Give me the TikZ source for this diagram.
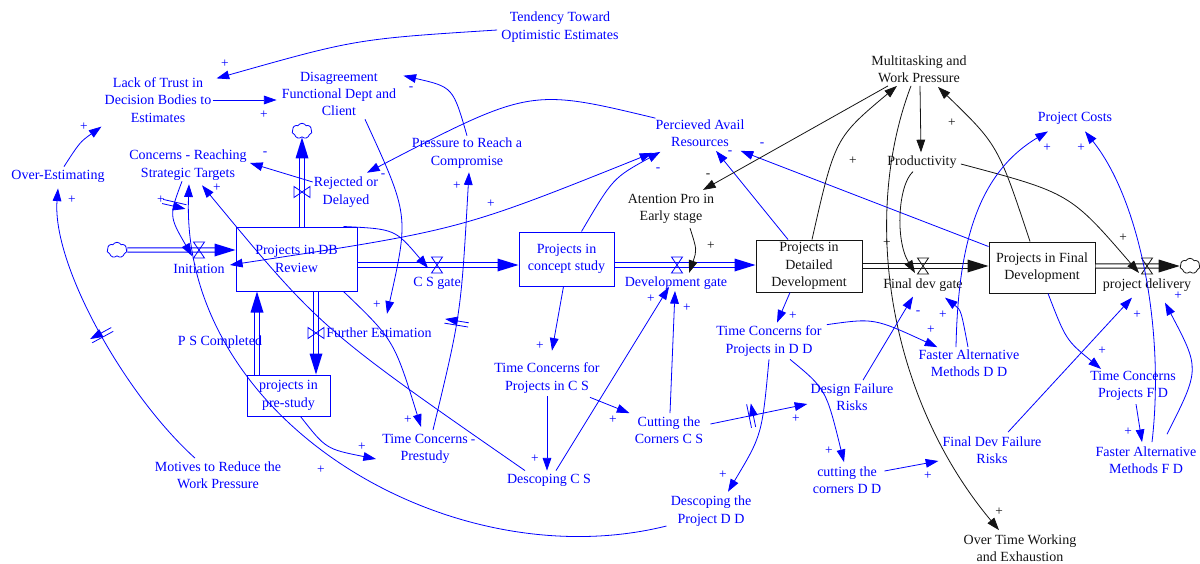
\documentclass[tikz,border=0pt]{standalone}
\usepackage{fontspec}
\setmainfont{Liberation Serif}
\usetikzlibrary{arrows.meta,calc,shapes.symbols,decorations.markings}
\definecolor{vblue}{RGB}{0,0,255}
\definecolor{vblack}{RGB}{20,20,20}
\begin{document}
\begin{tikzpicture}[x=0.75pt,y=-0.75pt,
  >={Triangle[length=9.5pt,width=6.5pt]},
  every node/.style={font=\fontsize{10.5}{13}\selectfont, align=center, inner sep=0.75pt},
  var/.style={text=vblue},
  bvar/.style={text=vblack},
  stock/.style={draw=#1, text=#1, line width=0.75pt, inner sep=0pt},
  link/.style={draw=vblue, line width=0.6pt, ->},
  blink/.style={draw=vblack, line width=0.6pt, ->},
  pipe/.style={draw=#1, line width=0.6pt, double=white, double distance=2.6pt},
  pipeto/.style={pipe=#1, shorten >=11pt},
  pol/.style={text=vblue, font=\fontsize{10}{10}\selectfont, inner sep=0pt},
  bpol/.style={pol, text=vblack},
  delay/.style={postaction={decorate, decoration={markings, mark=at position #1 with {\draw[vblue, line width=0.6pt] (-1.6pt,-9pt) -- (-1.6pt,9pt) (1.6pt,-9pt) -- (1.6pt,9pt);}}}},
  puff/.style={cloud, cloud puffs=7, cloud puff arc=120, aspect=1.3, draw=#1, line width=0.6pt, minimum width=15pt, minimum height=11.5pt, inner sep=0pt},
  ptip/.pic={\fill (0,0) -- (-21,-6.5) -- (-21,6.5) -- cycle;},
  valve/.pic={\draw[line width=0.6pt] (-5.5,-8) -- (5.5,-8) -- (-5.5,8) -- (5.5,8) -- cycle;},
]
\useasboundingbox (0,0) rectangle (1200,564);

% ---------- stocks ----------
\node[stock=vblue, minimum width=90.75pt, minimum height=48pt] (dbr) at (296.5,259) {Projects in DB\\Review};
\node[stock=vblue, minimum width=71.25pt, minimum height=40.5pt] (pcs) at (566.5,259) {Projects in\\concept study};
\node[stock=vblack, minimum width=79.5pt, minimum height=39pt] (pdd) at (809,266) {Projects in\\Detailed\\Development};
\node[stock=vblack, minimum width=79.5pt, minimum height=38.25pt] (pfd) at (1042,267.5) {Projects in Final\\Development};
\node[stock=vblue, minimum width=62.25pt, minimum height=30.75pt] (pps) at (288.5,395.5) {projects in\\pre-study};

% ---------- clouds and valve positions ----------
\node[puff=vblue] (src) at (117,250) {};
\node[puff=vblue] (up) at (302,131) {};
\node[puff=vblack] (snk) at (1190,266) {};
\coordinate (vinit) at (199,250);
\coordinate (vcsg) at (437,265);
\coordinate (vdev) at (677,265);
\coordinate (vfdg) at (923,266);
\coordinate (vpdel) at (1147,266);
\coordinate (vrej) at (302,192);
\coordinate (vfur) at (316,333);
\coordinate (vps) at (257,340);

% ---------- flows ----------
\draw[pipeto=vblue] (src) -- (dbr.west |- vinit);
\pic[color=vblue] at (dbr.west |- vinit) {ptip};
\pic[color=vblue] at (vinit) {valve};
\draw[pipeto=vblue] (dbr.east |- vcsg) -- (pcs.west |- vcsg);
\pic[color=vblue] at (pcs.west |- vcsg) {ptip};
\pic[color=vblue] at (vcsg) {valve};
\draw[pipeto=vblue] (pcs.east |- vdev) -- (pdd.west |- vdev);
\pic[color=vblue] at (pdd.west |- vdev) {ptip};
\pic[color=vblue] at (vdev) {valve};
\draw[pipeto=vblack] (pdd.east |- vfdg) -- (pfd.west |- vfdg);
\pic[color=vblack] at (pfd.west |- vfdg) {ptip};
\pic[color=vblack] at (vfdg) {valve};
\draw[pipeto=vblack] (pfd.east |- vpdel) -- (snk.west);
\pic[color=vblack] at (snk.west) {ptip};
\pic[color=vblack] at (vpdel) {valve};
\draw[pipeto=vblue] (dbr.north -| vrej) -- (up.south);
\pic[color=vblue, rotate=90] at (up.south) {ptip};
\pic[color=vblue, rotate=90] at (vrej) {valve};
\draw[pipeto=vblue] (dbr.south -| vfur) -- (pps.north -| vfur);
\pic[color=vblue, rotate=-90] at (pps.north -| vfur) {ptip};
\pic[color=vblue, rotate=90] at (vfur) {valve};
\draw[pipeto=vblue] (pps.north -| vps) -- (dbr.south -| vps);
\pic[color=vblue, rotate=90] at (dbr.south -| vps) {ptip};

% ---------- variables ----------
\node[var] (tend) at (560,27) {Tendency Toward\\Optimistic Estimates};
\node[var] (trust) at (158,100) {Lack of Trust in\\Decision Bodies to\\Estimates};
\node[var] (disag) at (339,94) {Disagreement\\Functional Dept and\\Client};
\node[var] (overest) at (58,176) {Over-Estimating};
\node[var] (concerns) at (188,165) {Concerns - Reaching\\Strategic Targets};
\node[var] (rejlab) at (346,192) {Rejected or\\Delayed};
\node[var] (press) at (467,153) {Pressure to Reach a\\Compromise};
\node[var] (par) at (700,133) {Percieved Avail\\Resources};
\node[var] (initlab) at (199,269) {Initiation};
\node[var] (csglab) at (437,283) {C S gate};
\node[var] (devglab) at (676,283) {Development gate};
\node[var] (pslab) at (220,342) {P S Completed};
\node[var] (furlab) at (379,333) {Further Estimation};
\node[var] (tcps) at (425,449) {Time Concerns\\Prestudy};
\node[var] (tccs) at (547,378) {Time Concerns for\\Projects in C S};
\node[var] (descs) at (549,480) {Descoping C S};
\node[var] (cutcs) at (669,430) {Cutting the\\Corners C S};
\node[var] (tcdd) at (769,341) {Time Concerns for\\Projects in D D};
\node[var] (dfr) at (852,397) {Design Failure\\Risks};
\node[var] (fadd) at (969,363) {Faster Alternative\\Methods D D};
\node[var] (cutdd) at (847,480) {cutting the\\corners D D};
\node[var] (fdfr) at (992,450) {Final Dev Failure\\Risks};
\node[var] (desdd) at (711,511) {Descoping the\\Project D D};
\node[var] (motives) at (218,475) {Motives to Reduce the\\Work Pressure};
\node[var] (tcfd) at (1133,386) {Time Concerns\\Projects F D};
\node[var] (fafd) at (1146,460) {Faster Alternative\\Methods F D};
\node[var] (pcost) at (1075,118) {Project Costs};
\node[bvar] (multi) at (919,69) {Multitasking and\\Work Pressure};
\node[bvar] (prod) at (922,162) {Productivity};
\node[bvar] (atten) at (671,209) {Atention Pro in\\Early stage};
\node[bvar] (overtime) at (1020,548) {Over Time Working\\and Exhaustion};
\node[bvar] (fdglab) at (923,285) {Final dev gate};
\node[bvar] (pdlab) at (1147,285) {project delivery};

% ---------- causal links ----------
\draw[link] ($(tend.west)+(-3,3)$) .. controls (356,39) .. ($(trust.north east)+(4,2)$);
\draw[link] (trust.east) -- ($(disag.west)+(-4,6)$);
\draw[link] ($(overest.north)+(6,-2)$) .. controls (80,142) .. ($(trust.south west)+(-2,3)$);
\draw[link, delay=0.5] ($(motives.north)+(-23,-2)$) .. controls (125,395) and (52,265) .. ($(overest.south)+(0,5)$);
\draw[link] ($(press.north)+(0,-1)$) .. controls (453,87) .. ($(disag.north east)+(6,5)$);
\draw[link] ($(rejlab.west)+(0,-10)$) -- ($(concerns.east)+(2,-2)$);
\draw[link] ($(par.north west)+(1,0)$) .. controls (530,88) .. ($(rejlab.north)+(21,-3)$);
\draw[link, <->] ($(par.south west)+(-2,5)$) .. controls (460,230) .. ($(initlab.east)+(4,-4)$);
\draw[link] ($(pcs.north)+(15,0)$) .. controls (613,178) .. ($(par.south west)+(6,4)$);
\draw[link] ($(pdd.north)+(-21,0)$) -- ($(par.south)+(16,3)$);
\draw[link] ($(pfd.north west)+(0,5)$) -- ($(par.south east)+(-5,3)$);
\draw[blink] ($(multi.south)+(-31,2)$) -- ($(atten.north)+(32,-3)$);
\draw[blink] ($(atten.south)+(19,3)$) .. controls (697,250) .. ($(vdev)+(12,8)$);
\draw[blink] ($(pdd.north)+(3,0)$) .. controls (835,138) .. ($(multi.south)+(-22,2)$);
\draw[blink] ($(pfd.north)+(-12,0)$) .. controls (998,145) .. ($(multi.south)+(19,3)$);
\draw[blink] ($(multi.south)+(1,2)$) -- ($(prod.north)+(-1,-2)$);
\draw[blink] ($(multi.south)+(-8,2)$) .. controls (860,220) and (890,400) .. ($(overtime.north)+(-21,-3)$);
\draw[blink] ($(prod.south)+(-9,2)$) .. controls (898,185) and (895,240) .. ($(vfdg)+(-8,7)$);
\draw[blink] ($(prod.east)+(3,2)$) .. controls (1070,193) .. ($(vpdel)+(-8,7)$);
\draw[link] ($(pdd.south)+(-19,0)$) -- ($(tcdd.north)+(8,-2)$);
\draw[link] ($(tcdd.north east)+(4,0)$) .. controls (874,318) .. ($(fadd.north west)+(20,-1)$);
\draw[link] ($(fadd.north)+(-1,-1)$) .. controls (961,310) .. ($(fdglab.south)+(22,5)$);
\draw[link] ($(fadd.north)+(-13,-1)$) .. controls (958,250) and (975,175) .. ($(pcost.south)+(-27,6)$);
\draw[link] ($(dfr.north)+(11,-2)$) -- ($(fdglab.south)+(-10,4)$);
\draw[link] ($(tcdd.south)+(21,2)$) .. controls (826,389) .. ($(cutdd.north)+(-3,-3)$);
\draw[link] ($(tcdd.south)+(0,2)$) .. controls (762,435) .. ($(desdd.north)+(17,-3)$);
\draw[link, delay=0.42] ($(cutcs.east)+(6,-6)$) -- ($(dfr.west)+(-2,7)$);
\draw[link] ($(cutdd.east)+(2,-9)$) -- ($(fdfr.west)+(-3,11)$);
\draw[link] ($(fdfr.north)+(16,-3)$) -- ($(pdlab.south)+(-15,5)$);
\draw[link] ($(pfd.south)+(6,0)$) .. controls (1066,340) .. ($(tcfd.north west)+(12,-1)$);
\draw[link] ($(tcfd.south)+(3,2)$) -- ($(fafd.north)+(-4,-3)$);
\draw[link] ($(fafd.north)+(6,-3)$) .. controls (1165,330) and (1140,200) .. ($(pcost.south)+(10,6)$);
\draw[link] ($(fafd.north)+(21,-11)$) .. controls (1200,369) .. ($(pdlab.south)+(18,10)$);
\draw[link] ($(pcs.south)+(-3,0)$) -- ($(tccs.north)+(5,-11)$);
\draw[link] ($(tccs.south)+(0,2)$) -- ($(descs.north)+(-2,-2)$);
\draw[link] ($(tccs.south)+(43,3)$) -- ($(cutcs.north west)+(-4,-2)$);
\draw[link] ($(descs.north)+(7,-2)$) -- ($(vdev)+(-8,22)$);
\draw[link] ($(cutcs.north)+(1,-2)$) -- ($(vdev)+(-2,26)$);
\draw[link] ($(descs.north)+(-24,-2)$) .. controls (321,329) .. ($(concerns.south)+(14,4)$);
\draw[link] ($(desdd.west)+(-3,15)$) .. controls (450,580) and (180,420) .. ($(concerns.south)+(1,3)$);
\draw[link, delay=0.3] ($(concerns.south)+(-6,0)$) .. controls (169,216) .. ($(vinit)+(-7,6)$);
\draw[link] ($(dbr.north east)+(-14,0)$) .. controls (395,229) .. ($(vcsg)+(-9,3)$);
\draw[link] ($(dbr.south east)+(-14,0)$) .. controls (394,340) .. ($(tcps.north)+(-4,-6)$);
\draw[link, delay=0.42] ($(tcps.north)+(8,-3)$) .. controls (461,314) .. ($(press.south)+(2,3)$);
\draw[link] ($(pps.south)+(12,0)$) .. controls (326,449) .. ($(tcps.west)+(-5,10)$);
\draw[link] ($(disag.south)+(26,2)$) .. controls (409,215) .. ($(furlab.north)+(8,-13)$);

% ---------- polarities ----------
\foreach \x/\y [count=\i] in {225/64, 264/115, 84/127, 72/200, 217/188, 161/200, 491/204, 457/186,
  377/305, 408/420, 362/447, 321/470, 540/346, 535/459, 613/420, 651/299, 687/308, 793/316,
  931/330, 943/315, 1047/148, 1081/148, 829/451, 723/475, 796/419, 928/476, 1137/315,
  1178/296, 1102/351, 1128/432}
  \node[pol] (pp\i) at (\x,\y) {+};
\foreach \x/\y [count=\i] in {411/89, 265/154, 383/176, 658/170, 730/153, 762/145, 473/442, 918/313}
  \node[pol] (pm\i) at (\x,\y) {-};
\foreach \x/\y [count=\i] in {711/246, 853/161, 952/123, 887/243, 1123/238, 999/512}
  \node[bpol] (bp\i) at (\x,\y) {+};
\node[bpol] (bm1) at (708,176) {-};
\end{tikzpicture}
\end{document}
